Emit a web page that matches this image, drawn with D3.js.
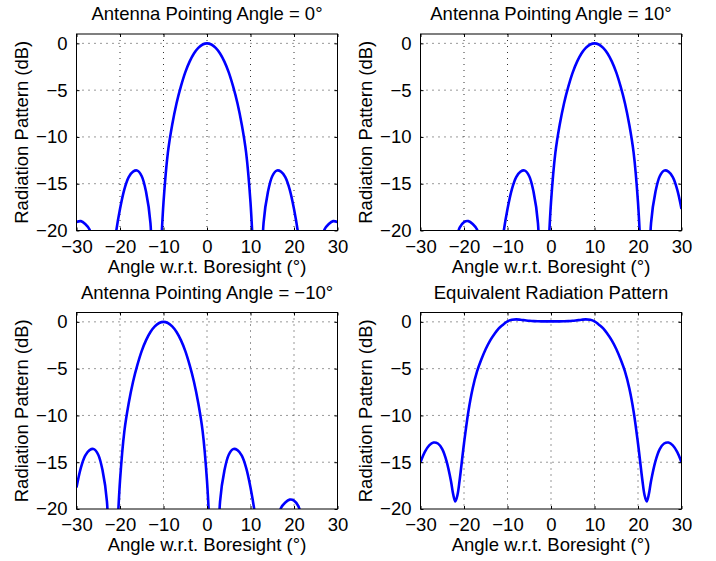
<!DOCTYPE html>
<html>
<head>
<meta charset="utf-8">
<script src="https://cdn.jsdelivr.net/npm/d3@7"></script>
<style>
  body { margin: 0; background: #fff; }
  text { font-family: "Liberation Sans", Arial, Helvetica, sans-serif; font-size: 18.5px; fill: #000; }
</style>
</head>
<body>
<div id="container"></div>
<script>
/**
 * DATA (dB per degree)
 * */
const angles = d3.range(-30, 31); // -30 .. 30, 1 deg steps

const pattern0 = [
  -19.1, -19.0, -19.3, -19.9, -22.5, -27, -36, -33, -25, -20.5,
  -17.7, -15.6, -14.3, -13.7, -13.6, -14.2, -15.9, -19.2, -34, -26,
  -17.0, -11.7, -8.7, -6.4, -4.6, -3.1, -1.95, -1.08, -0.48, -0.12,
  0,
  -0.12, -0.48, -1.08, -1.95, -3.1, -4.6, -6.4, -8.7, -11.7, -17.0,
  -26, -34, -19.2, -15.9, -14.2, -13.6, -13.7, -14.3, -15.6, -17.7,
  -20.5, -25, -33, -36, -27, -22.5, -19.9, -19.3, -19.0, -19.1
];

const patternPlus10 = [
  -24, -24, -25, -27, -32, -38, -32, -25, -21.5, -19.7,
  -19.1, -19.0, -19.3, -19.9, -22.5, -27, -36, -33, -25, -20.5,
  -17.7, -15.6, -14.3, -13.7, -13.6, -14.2, -15.9, -19.2, -34, -26,
  -17.0,
  -11.7, -8.7, -6.4, -4.6, -3.1, -1.95, -1.08, -0.48, -0.12, 0,
  -0.12, -0.48, -1.08, -1.95, -3.1, -4.6, -6.4, -8.7, -11.7, -17.0,
  -26, -34, -19.2, -15.9, -14.2, -13.6, -13.7, -14.3, -15.6, -17.7
];

const patternMinus10 = [
  -17.7, -15.6, -14.3, -13.7, -13.6, -14.2, -15.9, -19.2, -34, -26,
  -17.0, -11.7, -8.7, -6.4, -4.6, -3.1, -1.95, -1.08, -0.48, -0.12,
  0, -0.12, -0.48, -1.08, -1.95, -3.1, -4.6, -6.4, -8.7, -11.7,
  -17.0,
  -26, -34, -19.2, -15.9, -14.2, -13.6, -13.7, -14.3, -15.6, -17.7,
  -20.5, -25, -33, -36, -27, -22.5, -19.9, -19.3, -19.0, -19.1,
  -19.7, -21.5, -25, -32, -38, -32, -27, -25, -24, -24
];

// equivalent pattern has a few extra points around the dips
const eqAngles = [
  -30, -29, -28, -27, -26, -25, -24, -23, -22.5, -22, -21.5, -21, -20,
  -19, -18, -17, -16, -15, -14, -13, -12, -11, -10, -9, -8, -7, -6, -5,
  -4, -3, -2, -1, 0, 1, 2, 3, 4, 5, 6, 7, 8, 9, 10, 11, 12, 13, 14, 15,
  16, 17, 18, 19, 20, 21, 21.5, 22, 22.5, 23, 24, 25, 26, 27, 28, 29, 30
];
const eqPattern = [
  -15.0, -13.9, -13.2, -12.9, -13.0, -13.6, -14.9, -17.0, -18.4, -19.2, -18.5, -16.9, -13.0,
  -9.6, -7.1, -5.3, -4.0, -2.9, -2.0, -1.3, -0.7, -0.3, 0.05, 0.22, 0.26, 0.22, 0.17, 0.12,
  0.08, 0.06, 0.05, 0.05, 0.05, 0.05, 0.05, 0.06, 0.08, 0.12, 0.17, 0.22, 0.26, 0.22, 0.05, -0.3,
  -0.7, -1.3, -2.0, -2.9,
  -4.0, -5.3, -7.1, -9.6, -13.0, -16.9, -18.5, -19.2, -18.4, -17.0, -14.9, -13.6, -13.0, -12.9,
  -13.2, -13.9, -15.0
];

const titles = [
  "Antenna Pointing Angle = 0°",
  "Antenna Pointing Angle = 10°",
  "Antenna Pointing Angle = \u221210°",
  "Equivalent Radiation Pattern"
];
const xTicks = [-30, -20, -10, 0, 10, 20, 30];
const yTicks = [0, -5, -10, -15, -20];
const xLabel = "Angle w.r.t. Boresight (°)";
const yLabel = "Radiation Pattern (dB)";

/**
 * LAYOUT
 * */
const width = 716, height = 561;
const plotW = 261, plotH = 196.5;
const cols = [76.5, 420.5], rows = [34, 312.5];

const panels = [
  { title: titles[0], xs: angles, ys: pattern0, left: cols[0], top: rows[0] },
  { title: titles[1], xs: angles, ys: patternPlus10, left: cols[1], top: rows[0] },
  { title: titles[2], xs: angles, ys: patternMinus10, left: cols[0], top: rows[1] },
  { title: titles[3], xs: eqAngles, ys: eqPattern, left: cols[1], top: rows[1] }
];

const fmt = d => d < 0 ? "\u2212" + Math.abs(d) : String(d);

const svg = d3.select("#container")
  .append("svg")
  .attr("width", width)
  .attr("height", height);

const x = d3.scaleLinear().domain([-30, 30]).range([0, plotW]);
const y = d3.scaleLinear().domain([-20, 1]).range([plotH, 0]);

panels.forEach((p, i) => {
  const g = svg.append("g").attr("transform", `translate(${p.left},${p.top})`);

  g.append("clipPath").attr("id", "clip" + i)
    .append("rect").attr("width", plotW).attr("height", plotH);

  // dotted grid
  g.selectAll("line.vgrid")
    .data(xTicks.slice(1, -1))
    .join("line")
    .attr("class", "vgrid")
    .attr("x1", d => x(d)).attr("x2", d => x(d))
    .attr("y1", 0).attr("y2", plotH)
    .attr("stroke", "#333").attr("stroke-width", 1)
    .attr("stroke-dasharray", "1,5");

  g.selectAll("line.hgrid")
    .data(yTicks.slice(0, -1))
    .join("line")
    .attr("class", "hgrid")
    .attr("x1", 0).attr("x2", plotW)
    .attr("y1", d => y(d)).attr("y2", d => y(d))
    .attr("stroke", "#333").attr("stroke-width", 1)
    .attr("stroke-dasharray", "1,5");

  // the pattern
  const line = d3.line()
    .x((d, k) => x(p.xs[k]))
    .y(d => y(d))
    .curve(d3.curveCatmullRom.alpha(0.5));

  g.append("path")
    .datum(p.ys)
    .attr("clip-path", `url(#clip${i})`)
    .attr("fill", "none")
    .attr("stroke", "#0000ff")
    .attr("stroke-width", 2.6)
    .attr("stroke-linejoin", "round")
    .attr("d", line);

  // axes: inward ticks on all four sides
  g.append("g").attr("transform", `translate(0,${plotH})`)
    .call(d3.axisBottom(x).tickValues(xTicks).tickSize(-3).tickFormat(fmt).tickPadding(9));
  g.append("g")
    .call(d3.axisTop(x).tickValues(xTicks).tickSize(-3).tickFormat(""));
  g.append("g")
    .call(d3.axisLeft(y).tickValues(yTicks).tickSize(-3).tickFormat(fmt).tickPadding(9));
  g.append("g").attr("transform", `translate(${plotW},0)`)
    .call(d3.axisRight(y).tickValues(yTicks).tickSize(-3).tickFormat(""));

  g.selectAll(".domain").remove();
  g.selectAll(".tick line").attr("stroke", "#000");
  g.selectAll(".tick text").attr("font-size", null).attr("font-family", null).attr("fill", "#000");

  g.append("rect")
    .attr("width", plotW).attr("height", plotH)
    .attr("fill", "none").attr("stroke", "#000").attr("stroke-width", 1);

  // texts
  g.append("text")
    .attr("x", plotW / 2).attr("y", -14)
    .attr("text-anchor", "middle")
    .text(p.title);

  g.append("text")
    .attr("x", plotW / 2).attr("y", plotH + 42)
    .attr("text-anchor", "middle")
    .text(xLabel);

  g.append("text")
    .attr("transform", `translate(-48.5,${plotH / 2}) rotate(-90)`)
    .attr("text-anchor", "middle")
    .text(yLabel);
});
</script>
</body>
</html>
